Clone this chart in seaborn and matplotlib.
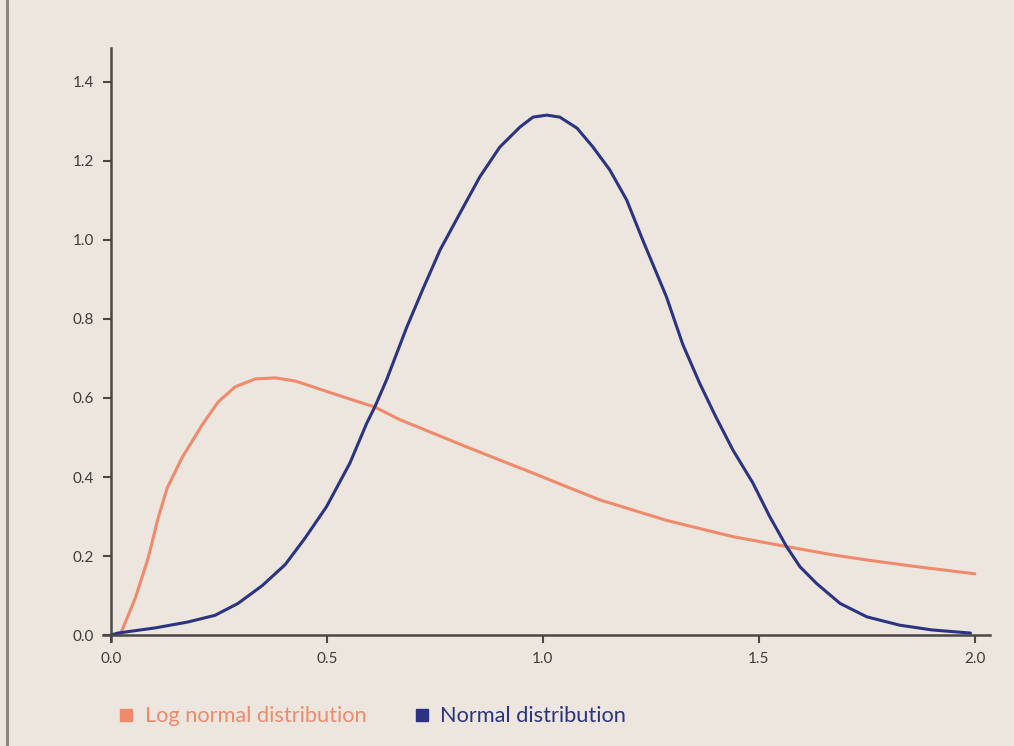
import numpy as np
import pandas as pd
import matplotlib
matplotlib.use("Agg")
import matplotlib.pyplot as plt
from matplotlib.lines import Line2D
import seaborn as sns

# values
lognorm_x = [0.021, 0.056, 0.086, 0.109, 0.130, 0.164, 0.211, 0.248, 0.287, 0.333,
             0.380, 0.426, 0.449, 0.537, 0.611, 0.669, 0.824, 0.90, 0.977, 1.056,
             1.132, 1.287, 1.44, 1.564, 1.671, 1.75, 1.866, 2.0]
lognorm_y = [0.0, 0.093, 0.195, 0.296, 0.372, 0.448, 0.532, 0.59, 0.628, 0.648,
             0.651, 0.643, 0.635, 0.603, 0.577, 0.545, 0.476, 0.443, 0.41, 0.375,
             0.342, 0.29, 0.249, 0.224, 0.203, 0.19, 0.173, 0.155]

normal_x = [0.0, 0.016, 0.102, 0.178, 0.241, 0.294, 0.35, 0.403, 0.449, 0.499, 0.553,
            0.592, 0.611, 0.638, 0.685, 0.723, 0.762, 0.808, 0.854, 0.90, 0.947,
            0.977, 1.009, 1.039, 1.079, 1.116, 1.155, 1.194, 1.231, 1.286, 1.324,
            1.363, 1.40, 1.44, 1.486, 1.525, 1.564, 1.595, 1.634, 1.688, 1.75,
            1.826, 1.90, 1.99]
normal_y = [0.0, 0.005, 0.018, 0.033, 0.05, 0.08, 0.125, 0.178, 0.245, 0.325, 0.435,
            0.536, 0.578, 0.646, 0.78, 0.878, 0.975, 1.068, 1.16, 1.235, 1.286,
            1.311, 1.316, 1.311, 1.283, 1.235, 1.177, 1.101, 1.0, 0.856, 0.735,
            0.637, 0.553, 0.468, 0.385, 0.30, 0.224, 0.173, 0.13, 0.08, 0.046,
            0.025, 0.013, 0.005]

series_names = ["Log normal distribution", "Normal distribution"]
series_colors = ["#f08a6c", "#2b3382"]
x_ticks = [0.0, 0.5, 1.0, 1.5, 2.0]
y_ticks = [0.0, 0.2, 0.4, 0.6, 0.8, 1.0, 1.2, 1.4]

df = pd.concat([
    pd.DataFrame({"x": lognorm_x, "y": lognorm_y, "dist": series_names[0]}),
    pd.DataFrame({"x": normal_x, "y": normal_y, "dist": series_names[1]}),
])

bg = "#ece6df"
sns.set_theme(style="ticks")
plt.rcParams["font.family"] = ["Lato", "DejaVu Sans"]

fig = plt.figure(figsize=(10.14, 7.46), dpi=100, facecolor=bg)
ax = fig.add_axes([0.1016, 0.1408, 0.8747, 0.7949])
ax.set_facecolor(bg)

sns.lineplot(data=df, x="x", y="y", hue="dist", palette=series_colors,
             linewidth=2.2, ax=ax, legend=False, sort=True)
for ln in ax.lines:
    ln.set_solid_joinstyle("round")

ax.set_xlim(-0.0185, 2.035)
ax.set_ylim(-0.015, 1.486)
ax.spines["left"].set_position(("data", 0))
ax.spines["bottom"].set_position(("data", 0))
ax.spines["top"].set_visible(False)
ax.spines["right"].set_visible(False)
for s in ["left", "bottom"]:
    ax.spines[s].set_color("#4a4744")
    ax.spines[s].set_linewidth(1.8)

ax.set_xticks(x_ticks)
ax.set_yticks(y_ticks)
ax.set_xticklabels([f"{v:.1f}" for v in x_ticks])
ax.set_yticklabels([f"{v:.1f}" for v in y_ticks])
ax.tick_params(axis="both", colors="#4a4744", labelcolor="#3e3c3a",
               labelsize=11, length=6, width=1.5, direction="out", pad=6)
ax.set_xlabel("")
ax.set_ylabel("")

handles = [Line2D([], [], marker="s", linestyle="none", markersize=9,
                  color=c) for c in series_colors]
leg = fig.legend(handles, series_names, loc="center left",
                 bbox_to_anchor=(0.0974, 0.04), ncol=2, frameon=False,
                 fontsize=15.7, handlelength=0.7, handletextpad=0.5,
                 columnspacing=2.2, labelcolor=series_colors)

# left border of the original image
fig.add_artist(Line2D([0.007, 0.007], [0, 1], color="#8c8782", linewidth=2.2,
                      transform=fig.transFigure))

fig.savefig("out.png", dpi=100, facecolor=bg)
